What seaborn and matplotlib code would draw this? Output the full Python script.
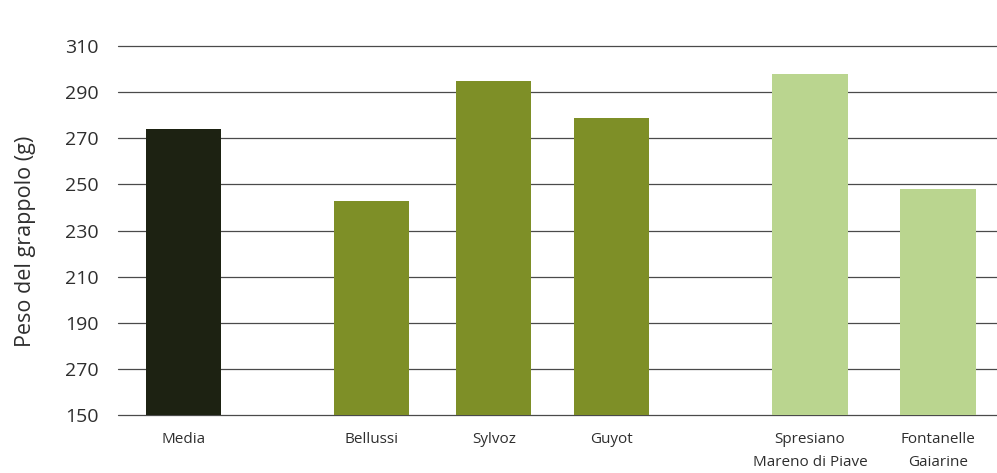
import matplotlib
matplotlib.use("Agg")
import matplotlib.pyplot as plt
import seaborn as sns
import pandas as pd

# Data
categories = ["Media", "Bellussi", "Sylvoz", "Guyot",
              "Spresiano\nMareno di Piave", "Fontanelle\nGaiarine"]
peso = [274, 243, 295, 279, 298, 248]
ytick_values = [150, 170, 190, 210, 230, 250, 270, 290, 310]
ytick_labels = ["150", "270", "190", "210", "230", "250", "270", "290", "310"]

# Layout: bar centres grouped (mean | training systems | areas)
positions = [0.0, 1.567, 2.583, 3.567, 5.217, 6.283]
colors = ["#1d2212", "#7e8f27", "#7e8f27", "#7e8f27", "#bad58f", "#bad58f"]

df = pd.DataFrame({"pos": positions, "peso": peso, "cat": categories})

sns.set_theme(style="white")
plt.rcParams["font.family"] = ["Open Sans", "DejaVu Sans"]

fig = plt.figure(figsize=(9.97, 4.73), dpi=100)
ax = fig.add_axes([0.118, 0.1226, 0.882, 0.7801])

sns.barplot(data=df, x="pos", y="peso", hue="cat", palette=colors,
            native_scale=True, width=0.636, legend=False, ax=ax,
            saturation=1, edgecolor="none", zorder=3)

ax.set_ylim(150, 310)
ax.set_xlim(-0.55, 6.775)
ax.set_yticks(ytick_values)
ax.set_yticklabels(ytick_labels, fontsize=14, color="#2e2e2e")
ax.set_xticks(positions)
ax.set_xticklabels(categories, fontsize=11, color="#2e2e2e", linespacing=1.8)
ax.tick_params(axis="y", length=0, pad=14)
ax.tick_params(axis="x", length=0, pad=12)

ax.yaxis.grid(True, color="#4a4a4a", linewidth=0.9, zorder=0)
for gl in ax.get_ygridlines():
    gl.set_clip_on(False)
ax.xaxis.grid(False)
for s in ax.spines.values():
    s.set_visible(False)

ax.set_xlabel("")
ax.set_ylabel("Peso del grappolo (g)", fontsize=15.5, color="#2e2e2e")
ax.yaxis.set_label_coords(-0.093, 0.47)

fig.savefig("out.png", dpi=100, facecolor="white")
